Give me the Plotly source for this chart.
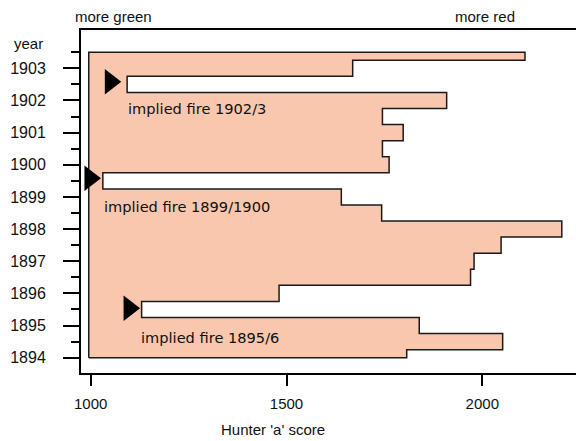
import plotly.graph_objects as go

# ---- data ----
years = [1894.0, 1894.5, 1895.0, 1895.5, 1896.0, 1896.5, 1897.0, 1897.5, 1898.0, 1898.5,
         1899.0, 1899.5, 1900.0, 1900.5, 1901.0, 1901.5, 1902.0, 1902.5, 1903.0, 1903.5]
scores = [1807, 2052, 1839, 1130, 1481, 1970, 1979, 2048, 2203, 1743,
          1640, 1031, 1762, 1745, 1798, 1745, 1909, 1093, 1669, 2109]
baseline = 995

fire_marker_x = [1050, 998, 1098]
fire_marker_y = [1902.58, 1899.58, 1895.54]
fire_labels = ["implied fire 1902/3", "implied fire 1899/1900", "implied fire 1895/6"]
fire_label_x = [1090, 1030, 1124]
fire_label_y = [1901.75, 1898.71, 1894.63]

year_ticks = list(range(1894, 1904))
year_minor = [y + 0.5 for y in range(1894, 1904)]
score_ticks = [1000, 1500, 2000]

FONT = "Liberation Sans, Arial, sans-serif"
LABEL_FONT = "DejaVu Sans, sans-serif"

# ---- step polygon built from the data (steps change at mid-points) ----
px_ = [baseline, scores[0]]
py_ = [years[0], years[0]]
for i in range(len(years) - 1):
    mid = (years[i] + years[i + 1]) / 2
    px_ += [scores[i], scores[i + 1]]
    py_ += [mid, mid]
px_ += [scores[-1], baseline, baseline]
py_ += [years[-1], years[-1], years[0]]

fig = go.Figure()
fig.add_trace(go.Scatter(
    x=px_, y=py_, mode="lines", fill="toself",
    fillcolor="#F9C7AD", line=dict(color="#1a1a1a", width=1.5),
    hoverinfo="skip", showlegend=False))
fig.add_trace(go.Scatter(
    x=fire_marker_x, y=fire_marker_y, mode="markers",
    marker=dict(symbol="triangle-right", size=22, color="black", line=dict(width=0)),
    showlegend=False, hoverinfo="skip"))

for t, x, y in zip(fire_labels, fire_label_x, fire_label_y):
    fig.add_annotation(x=x, y=y, text=t, showarrow=False, xanchor="left", yanchor="middle",
                       font=dict(family=LABEL_FONT, size=14.6, color="#111"))

fig.add_annotation(xref="paper", yref="paper", x=-0.139, y=0.962, text="year",
                   showarrow=False, xanchor="left", yanchor="middle",
                   font=dict(family=FONT, size=15, color="#111"))
fig.add_annotation(xref="paper", yref="paper", x=(72.7 - 81) / 495, y=1.04, text="more green",
                   showarrow=False, xanchor="left", yanchor="middle",
                   font=dict(family=FONT, size=15, color="#111"))
fig.add_annotation(xref="paper", yref="paper", x=(516.7 - 81) / 495, y=1.04, text="more red",
                   showarrow=False, xanchor="right", yanchor="middle",
                   font=dict(family=FONT, size=15, color="#111"))
fig.add_annotation(xref="paper", yref="paper", x=(273.3 - 81) / 495, y=-0.166,
                   text="Hunter 'a' score", showarrow=False, xanchor="center", yanchor="middle",
                   font=dict(family=FONT, size=15, color="#111"))

fig.update_layout(
    width=576, height=441,
    margin=dict(l=81, r=0, t=30, b=68),
    paper_bgcolor="white", plot_bgcolor="white",
    font=dict(family=FONT, size=15, color="#111"),
    xaxis=dict(range=[975.2, 2239.3], tickvals=score_ticks, ticks="outside", ticklen=11,
               tickwidth=1.5, tickcolor="black", showline=True, linecolor="black",
               linewidth=2, mirror=True, showgrid=False, zeroline=False,
               ticklabelstandoff=5,
               tickfont=dict(family=FONT, size=15, color="#111")),
    yaxis=dict(range=[1893.525, 1904.19], tickvals=year_ticks, ticks="outside", ticklen=16,
               tickwidth=2, tickcolor="black", showline=True, linecolor="black",
               linewidth=2, showgrid=False, zeroline=False, ticklabelstandoff=14,
               tickfont=dict(family=FONT, size=16, color="#111"),
               minor=dict(tickvals=year_minor, ticks="outside", ticklen=8, tickwidth=2,
                          tickcolor="black", showgrid=False)),
)

fig.write_html("out.html")
